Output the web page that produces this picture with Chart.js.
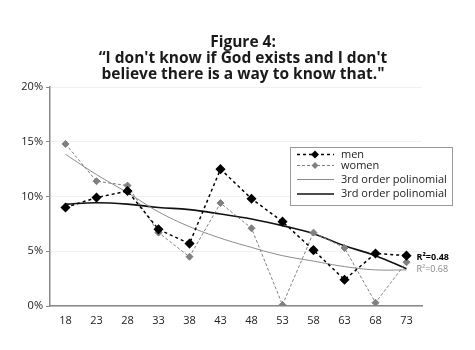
<!DOCTYPE html>
<html>
<head>
<meta charset="utf-8">
<script src="https://cdn.jsdelivr.net/npm/chart.js@4.4.1/dist/chart.umd.min.js"></script>
<style>
  html, body { margin: 0; padding: 0; background: #fff; }
  #wrap { width: 475px; height: 350px; position: relative; }
  #title {
    position: absolute; left: 0; top: 33px; width: 486px;
    text-align: center; font: bold 15.5px "Open Sans", "DejaVu Sans", sans-serif;
    line-height: 16px; color: #1a1a1a; white-space: nowrap;
  }
</style>
</head>
<body>
<div id="wrap">
  <canvas id="myChart" width="475" height="350"></canvas>
  <div id="title"></div>
</div>
<script>
// age groups
var ages = ['18', '23', '28', '33', '38', '43', '48', '53', '58', '63', '68', '73'];
// percent answering
var men = [9.0, 9.9, 10.5, 7.0, 5.7, 12.5, 9.8, 7.7, 5.1, 2.4, 4.8, 4.6];
var women = [14.8, 11.4, 11.0, 6.7, 4.5, 9.4, 7.1, 0.1, 6.7, 5.3, 0.3, 4.0];
// trend lines as drawn in the figure
var menTrend = [9.3, 9.43, 9.3, 9.0, 8.8, 8.4, 7.95, 7.34, 6.6, 5.5, 4.6, 3.4];
var womenTrend = [13.85, 12.0, 10.35, 8.6, 7.25, 6.2, 5.35, 4.6, 4.1, 3.6, 3.3, 3.3];
var yTicks = [0, 5, 10, 15, 20];
var r2Labels = ['R\u00b2=0.48', 'R\u00b2=0.68'];
var titleLines = ['Figure 4:', '\u201cI don\'t know if God exists and I don\'t', 'believe there is a way to know that."'];

var font = '"Open Sans", "DejaVu Sans", sans-serif';

var titleEl = document.getElementById('title');
titleLines.forEach(function (t) {
    var d = document.createElement('div');
    d.textContent = t;
    titleEl.appendChild(d);
});

// legend inside the plot + R2 text
var extras = {
    id: 'extras',
    afterDraw: function (chart) {
        var ctx = chart.ctx;
        var xs = chart.scales.x, ys = chart.scales.y;
        ctx.save();
        // R2 labels
        ctx.textBaseline = 'middle';
        ctx.textAlign = 'left';
        var lx = xs.getPixelForValue(ages.length - 1) + 10;
        ctx.font = 'bold 9px ' + font;
        ctx.fillStyle = '#000';
        ctx.fillText(r2Labels[0], lx, ys.getPixelForValue(men[men.length - 1]) + 2);
        ctx.font = '9px ' + font;
        ctx.fillStyle = '#888';
        ctx.fillText(r2Labels[1], lx, ys.getPixelForValue(womenTrend[womenTrend.length - 1]));

        // legend box
        var bx = 290, by = 147, bw = 162, bh = 58;
        ctx.fillStyle = '#fff';
        ctx.fillRect(bx, by, bw, bh);
        ctx.strokeStyle = '#999';
        ctx.lineWidth = 1;
        ctx.strokeRect(bx + 0.5, by + 0.5, bw, bh);
        var items = chart.data.datasets;
        var rows = [154.5, 165.5, 179.5, 194];
        ctx.font = '11px ' + font;
        for (var i = 0; i < items.length; i++) {
            var d = items[i], y = rows[i];
            ctx.beginPath();
            ctx.setLineDash(d.borderDash || []);
            ctx.strokeStyle = d.borderColor;
            ctx.lineWidth = d.borderWidth;
            ctx.moveTo(297, y);
            ctx.lineTo(334, y);
            ctx.stroke();
            ctx.setLineDash([]);
            if (d.pointRadius > 0) {
                var r = d.pointRadius;
                ctx.beginPath();
                ctx.moveTo(315, y - r);
                ctx.lineTo(315 + r, y);
                ctx.lineTo(315, y + r);
                ctx.lineTo(315 - r, y);
                ctx.closePath();
                ctx.fillStyle = d.backgroundColor;
                ctx.fill();
            }
            ctx.fillStyle = '#222';
            ctx.fillText(d.label, 341, y);
        }
        ctx.restore();
    }
};

new Chart(document.getElementById('myChart'), {
    type: 'line',
    data: {
        labels: ages,
        datasets: [{
            label: 'men',
            data: men,
            borderColor: '#000',
            backgroundColor: '#000',
            borderWidth: 1.5,
            borderDash: [3, 3],
            pointStyle: 'rectRot',
            pointRadius: 4,
            tension: 0
        }, {
            label: 'women',
            data: women,
            borderColor: '#808080',
            backgroundColor: '#808080',
            borderWidth: 1,
            borderDash: [3, 2],
            pointStyle: 'rectRot',
            pointRadius: 3.5,
            tension: 0
        }, {
            label: '3rd order polinomial',
            data: womenTrend,
            borderColor: '#8a8a8a',
            backgroundColor: '#8a8a8a',
            borderWidth: 1,
            pointRadius: 0,
            tension: 0.4
        }, {
            label: '3rd order polinomial',
            data: menTrend,
            borderColor: '#111',
            backgroundColor: '#111',
            borderWidth: 1.6,
            pointRadius: 0,
            tension: 0.4
        }]
    },
    options: {
        responsive: false,
        animation: false,
        layout: { padding: { left: 0, right: 53, top: 87, bottom: 0 } },
        plugins: {
            legend: { display: false },
            tooltip: { enabled: false },
            title: { display: false }
        },
        scales: {
            x: {
                offset: true,
                grid: { display: false, drawTicks: false },
                border: { color: '#888', width: 1.5 },
                ticks: { color: '#222', font: { family: font, size: 11 }, padding: 8, maxRotation: 0 },
                afterFit: function (s) { s.height = 44; }
            },
            y: {
                min: 0,
                max: 20,
                afterBuildTicks: function (s) { s.ticks = yTicks.map(function (v) { return { value: v }; }); },
                grid: { color: '#f0f0f0', tickColor: '#888', tickLength: 4 },
                border: { color: '#888', width: 1.5 },
                ticks: { color: '#222', font: { family: font, size: 11 }, padding: 3,
                    callback: function (v) { return v + '%'; } },
                afterFit: function (s) { s.width = 50; }
            }
        }
    },
    plugins: [extras]
});
</script>
</body>
</html>
